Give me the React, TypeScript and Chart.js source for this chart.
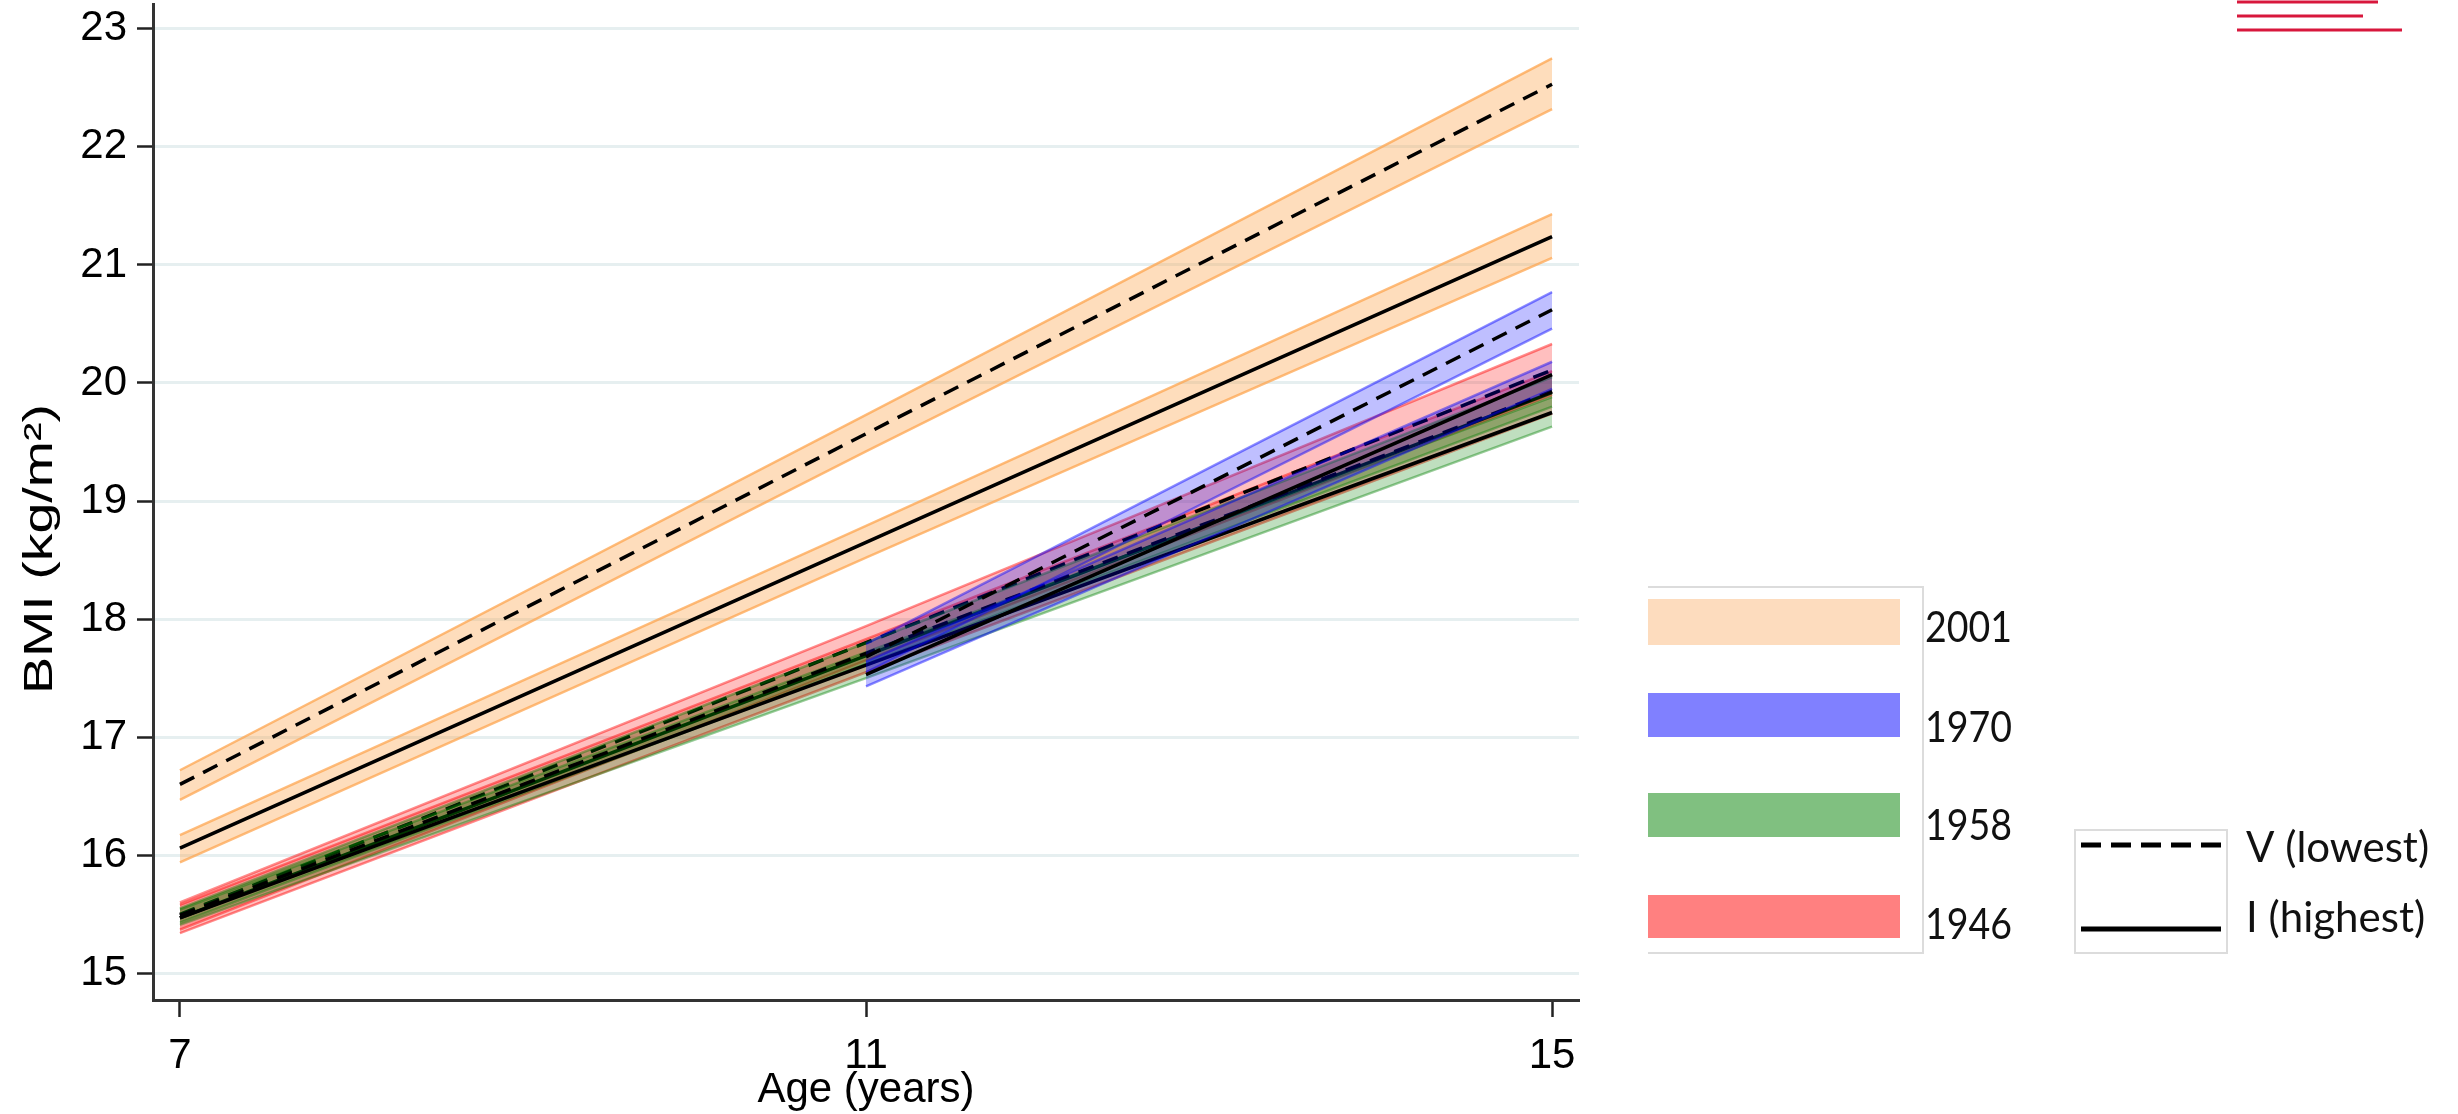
import React, { useEffect, useRef } from 'react';
import { Chart, registerables } from 'chart.js';

Chart.register(...registerables);

// ---------- data ----------
const AGES = [7, 11, 15];
const AGES_1970 = [11, 15];
const X_TICKS = [7, 11, 15];
const Y_TICKS = [15, 16, 17, 18, 19, 20, 21, 22, 23];
const COHORTS = ['2001', '1970', '1958', '1946'];
const GROUPS = ['V (lowest)', 'I (highest)'];
const X_TITLE = 'Age (years)';
const Y_TITLE = 'BMI (kg/m\u00B2)';

// 1946 cohort
const B1946_V = [15.5, 17.8, 20.11];
const B1946_V_LO = [15.37, 17.65, 19.9];
const B1946_V_HI = [15.6, 17.94, 20.33];
const B1946_I = [15.47, 17.69, 19.92];
const B1946_I_LO = [15.34, 17.55, 19.74];
const B1946_I_HI = [15.58, 17.83, 20.1];

// 1958 cohort
const B1958_V = [15.49, 17.71, 19.93];
const B1958_V_LO = [15.43, 17.62, 19.8];
const B1958_V_HI = [15.55, 17.8, 20.05];
const B1958_I = [15.47, 17.61, 19.75];
const B1958_I_LO = [15.41, 17.5, 19.63];
const B1958_I_HI = [15.54, 17.72, 19.88];

// 1970 cohort (ages 11 and 15 only)
const B1970_V = [17.68, 20.62];
const B1970_V_LO = [17.55, 20.46];
const B1970_V_HI = [17.79, 20.77];
const B1970_I = [17.53, 20.07];
const B1970_I_LO = [17.43, 19.95];
const B1970_I_HI = [17.64, 20.18];

// 2001 cohort
const B2001_V = [16.6, 19.57, 22.53];
const B2001_V_LO = [16.47, 19.42, 22.32];
const B2001_V_HI = [16.72, 19.73, 22.75];
const B2001_I = [16.06, 18.65, 21.24];
const B2001_I_LO = [15.94, 18.52, 21.06];
const B2001_I_HI = [16.17, 18.79, 21.43];

// ---------- styles ----------
const STYLE: Record<string, { fill: string; edge: string; swatch: string }> = {
  '2001': { fill: 'rgba(253,165,80,0.38)', edge: 'rgba(253,165,80,0.75)', swatch: '#FDDCBE' },
  '1970': { fill: 'rgba(0,0,255,0.25)', edge: 'rgba(0,0,255,0.45)', swatch: '#8080FF' },
  '1958': { fill: 'rgba(0,128,0,0.25)', edge: 'rgba(0,128,0,0.4)', swatch: '#80C080' },
  '1946': { fill: 'rgba(255,0,0,0.25)', edge: 'rgba(255,0,0,0.45)', swatch: '#FF8080' },
};

const pts = (xs: number[], ys: number[]) => xs.map((x, i) => ({ x, y: ys[i] }));

function buildDatasets() {
  const ds: any[] = [];
  const addBand = (xs: number[], lo: number[], hi: number[], c: string) => {
    const iHi = ds.length;
    ds.push({ data: pts(xs, hi), borderColor: STYLE[c].edge, borderWidth: 2.5, fill: false });
    ds.push({
      data: pts(xs, lo),
      borderColor: STYLE[c].edge,
      borderWidth: 2.5,
      fill: { target: iHi },
      backgroundColor: STYLE[c].fill,
    });
  };
  const addLine = (xs: number[], ys: number[], dashed: boolean) => {
    ds.push({
      data: pts(xs, ys),
      borderColor: '#000',
      borderWidth: 3.5,
      borderDash: dashed ? [16, 10] : [],
      fill: false,
    });
  };
  const cohortSpec: [string, number[], number[][]][] = [
    ['1946', AGES, [B1946_V, B1946_V_LO, B1946_V_HI, B1946_I, B1946_I_LO, B1946_I_HI]],
    ['1958', AGES, [B1958_V, B1958_V_LO, B1958_V_HI, B1958_I, B1958_I_LO, B1958_I_HI]],
    ['1970', AGES_1970, [B1970_V, B1970_V_LO, B1970_V_HI, B1970_I, B1970_I_LO, B1970_I_HI]],
    ['2001', AGES, [B2001_V, B2001_V_LO, B2001_V_HI, B2001_I, B2001_I_LO, B2001_I_HI]],
  ];
  for (const [c, xs, arr] of cohortSpec) {
    const [v, vlo, vhi, i, ilo, ihi] = arr;
    addBand(xs, vlo, vhi, c);
    addBand(xs, ilo, ihi, c);
    addLine(xs, v, true);
    addLine(xs, i, false);
  }
  const n = ds.length;
  ds.forEach((d, k) => {
    d.order = n - k;
    d.pointRadius = 0;
    d.tension = 0;
  });
  return ds;
}

const overlayPlugin = {
  id: 'overlay',
  afterDraw(chart: any) {
    const ctx = chart.ctx as CanvasRenderingContext2D;
    const axisFont = '"Liberation Sans", Arial, sans-serif';
    const legFont = 'Lato, "Open Sans", sans-serif';

    // Y title
    ctx.save();
    ctx.font = `40px ${axisFont}`;
    ctx.fillStyle = '#000';
    ctx.textAlign = 'center';
    ctx.textBaseline = 'alphabetic';
    ctx.translate(52, 549);
    ctx.rotate(-Math.PI / 2);
    const w = ctx.measureText(Y_TITLE).width;
    ctx.scale(290 / w, 1);
    ctx.fillText(Y_TITLE, 0, 0);
    ctx.restore();

    // X title
    ctx.save();
    ctx.font = `42px ${axisFont}`;
    ctx.fillStyle = '#000';
    ctx.textAlign = 'center';
    ctx.textBaseline = 'alphabetic';
    const area = chart.chartArea;
    ctx.fillText(X_TITLE, (area.left + area.right) / 2, 1102);
    ctx.restore();

    // cohort legend
    ctx.save();
    ctx.strokeStyle = '#dcdcdc';
    ctx.lineWidth = 2;
    ctx.beginPath();
    ctx.moveTo(1648, 587);
    ctx.lineTo(1923, 587);
    ctx.lineTo(1923, 953);
    ctx.lineTo(1648, 953);
    ctx.stroke();
    const swY = [[599, 645], [693, 737], [793, 837], [895, 938]];
    const labY = [642, 742, 840, 939];
    COHORTS.forEach((c, k) => {
      ctx.fillStyle = STYLE[c].swatch;
      ctx.fillRect(1648, swY[k][0], 252, swY[k][1] - swY[k][0]);
      ctx.fillStyle = '#111';
      ctx.font = `42px ${legFont}`;
      ctx.textAlign = 'left';
      ctx.textBaseline = 'alphabetic';
      ctx.fillText(c, 1925, labY[k], 87);
    });

    // line-type legend
    ctx.strokeStyle = '#dcdcdc';
    ctx.lineWidth = 2;
    ctx.strokeRect(2075, 830, 152, 123);
    ctx.strokeStyle = '#000';
    ctx.lineWidth = 5;
    ctx.setLineDash([20, 10]);
    ctx.beginPath();
    ctx.moveTo(2081, 845);
    ctx.lineTo(2221, 845);
    ctx.stroke();
    ctx.setLineDash([]);
    ctx.beginPath();
    ctx.moveTo(2081, 929);
    ctx.lineTo(2221, 929);
    ctx.stroke();
    ctx.fillStyle = '#111';
    ctx.font = `42px ${legFont}`;
    ctx.fillText(GROUPS[0], 2246, 862, 184);
    ctx.fillText(GROUPS[1], 2246, 932, 184);

    // decorative red lines (top right)
    ctx.strokeStyle = '#D8173C';
    ctx.lineWidth = 3;
    const red = [[2237, 2378, 2], [2237, 2363, 16], [2237, 2402, 30]];
    red.forEach(([x0, x1, y]) => {
      ctx.beginPath();
      ctx.moveTo(x0, y);
      ctx.lineTo(x1, y);
      ctx.stroke();
    });
    ctx.restore();
  },
};

export default function App() {
  const ref = useRef<HTMLCanvasElement>(null);
  useEffect(() => {
    document.body.style.margin = '0';
    const axisFont = '"Liberation Sans", Arial, sans-serif';
    const chart = new Chart(ref.current!, {
      type: 'line',
      data: { datasets: buildDatasets() },
      options: {
        responsive: false,
        animation: false,
        devicePixelRatio: 1,
        layout: { padding: { top: 4, right: 879, left: 0, bottom: 0 } },
        plugins: { legend: { display: false }, tooltip: { enabled: false } },
        scales: {
          x: {
            type: 'linear',
            min: 6.843,
            max: 15.157,
            afterBuildTicks: (s: any) => {
              s.ticks = X_TICKS.map((v) => ({ value: v }));
            },
            afterFit: (s: any) => {
              s.height = 114;
              s.paddingLeft = 0;
              s.paddingRight = 0;
            },
            grid: {
              drawOnChartArea: false,
              drawTicks: true,
              tickLength: 17,
              tickColor: '#222',
              tickWidth: 2.5,
            },
            border: { display: true, color: '#333', width: 3 },
            ticks: {
              color: '#000',
              font: { family: axisFont, size: 42 },
              padding: 14,
              maxRotation: 0,
              callback: (v: any) => String(v),
            },
          },
          y: {
            type: 'linear',
            min: 14.774,
            max: 23.21,
            afterBuildTicks: (s: any) => {
              s.ticks = Y_TICKS.map((v) => ({ value: v }));
            },
            afterFit: (s: any) => {
              s.width = 153;
              s.paddingTop = 0;
              s.paddingBottom = 0;
            },
            grid: {
              color: '#E6EFF0',
              lineWidth: 3,
              drawTicks: true,
              tickLength: 16,
              tickColor: '#222',
              tickWidth: 2.5,
            },
            border: { display: true, color: '#333', width: 3 },
            ticks: {
              color: '#000',
              font: { family: axisFont, size: 42 },
              padding: 10,
              callback: (v: any) => String(v),
            },
          },
        },
      },
      plugins: [overlayPlugin],
    });
    return () => chart.destroy();
  }, []);
  return (
    <div style={{ position: 'relative', width: 2458, height: 1114, background: '#fff' }}>
      <canvas ref={ref} width={2458} height={1114} style={{ display: 'block' }} />
    </div>
  );
}
